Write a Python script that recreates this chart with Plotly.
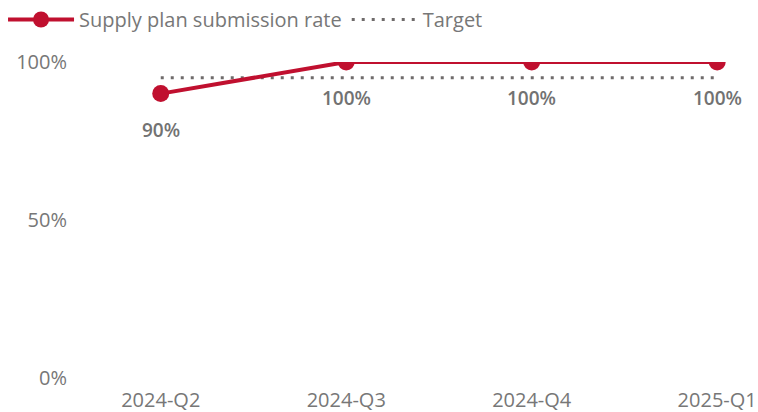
import plotly.graph_objects as go

quarters = ["2024-Q2", "2024-Q3", "2024-Q4", "2025-Q1"]
submission_rate = [0.90, 1.00, 1.00, 1.00]
target = [0.95, 0.95, 0.95, 0.95]
rate_labels = ["90%", "100%", "100%", "100%"]

RED = "#C0102F"
GRAY_DOT = "#6F6B6B"
TEXT = "#777777"
FONT = "Open Sans"
FS = 20

xs = list(range(len(quarters)))

fig = go.Figure()
fig.add_trace(go.Scatter(
    x=xs, y=target, name="Target", mode="lines",
    line=dict(color=GRAY_DOT, width=3, dash="3px,7px"),
    hoverinfo="skip", legendrank=2,
))
fig.add_trace(go.Scatter(
    x=xs, y=submission_rate, name="Supply plan submission rate",
    mode="lines+markers",
    line=dict(color=RED, width=4),
    marker=dict(color=RED, size=17),
    legendrank=1,
))

for xi, yi, lab in zip(xs, submission_rate, rate_labels):
    fig.add_annotation(x=xi, y=yi, text=lab, showarrow=False, yshift=-36,
                       font=dict(family=FONT, size=19, color="#727272", weight=600))

# mask above the plot area so markers at the top edge are clipped like the original
fig.add_shape(type="rect", xref="paper", yref="paper", x0=-0.002, x1=1, y0=1, y1=1.09,
              fillcolor="white", line=dict(width=0), layer="above")

fig.update_layout(
    width=758, height=412,
    margin=dict(l=68, r=0, t=62, b=34),
    paper_bgcolor="white", plot_bgcolor="white",
    font=dict(family=FONT, size=FS, color=TEXT),
    showlegend=True,
    legend=dict(orientation="h", x=0.004, y=1, xref="container", yref="container",
                xanchor="left", yanchor="top", itemwidth=66,
                font=dict(family=FONT, size=FS, color=TEXT),
                traceorder="normal", bgcolor="rgba(0,0,0,0)"),
    xaxis=dict(range=[-0.5, 3.22], tickmode="array", tickvals=xs, ticktext=quarters,
               showgrid=False, zeroline=False, showline=False, ticks="",
               ticklabelstandoff=8,
               tickfont=dict(family=FONT, size=FS, color=TEXT)),
    yaxis=dict(range=[0, 1], tickvals=[0, 0.5, 1], ticktext=["0%", "50%", "100%"],
               showgrid=False, zeroline=False, showline=False, ticks="",
               tickfont=dict(family=FONT, size=FS, color=TEXT)),
)

fig.write_html("out.html", config={"displayModeBar": False},
               post_script="document.body.style.margin='0';")
